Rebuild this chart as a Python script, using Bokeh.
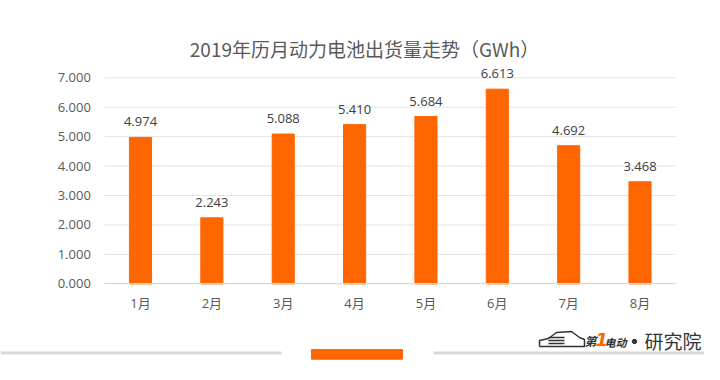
from bokeh.plotting import figure
from bokeh.models import (ColumnDataSource, FixedTicker, NumeralTickFormatter, Range1d,
                          LabelSet, LinearAxis)
from bokeh.embed import file_html
from bokeh.resources import INLINE
from bokeh.core.properties import value

months = ["1月", "2月", "3月", "4月", "5月", "6月", "7月", "8月"]
gwh = [4.974, 2.243, 5.088, 5.410, 5.684, 6.613, 4.692, 3.468]
y_ticks = [0, 1, 2, 3, 4, 5, 6, 7]
title_text = "2019年历月动力电池出货量走势（GWh）"

ORANGE = "#ff6600"
TXT = "#595959"
FONT = "'Open Sans', 'Noto Sans CJK SC'"
CJK = "Noto Sans CJK SC"

W, H = 704, 364
OFF = 0            # page offset of the canvas (px)
PX_X = 71.36       # px per category step
PX_Y = 29.43       # px per GWh
X1_IMG = 140.0     # image x of first category centre
Y0_IMG = 283.3     # image y of value 0

xs = 1 - (X1_IMG - OFF) / PX_X
xe = xs + W / PX_X
yt = (Y0_IMG - OFF) / PX_Y
yb = yt - H / PX_Y


def X(px):
    return xs + (px - OFF) / PX_X


def Y(py):
    return yt - (py - OFF) / PX_Y


pos = list(range(1, len(months) + 1))
src = ColumnDataSource(dict(x=pos, v=gwh, lab=["%.3f" % v for v in gwh]))

p = figure(width=W, height=H, x_range=Range1d(xs, xe), y_range=Range1d(yb, yt),
           x_axis_type=None, y_axis_type=None, output_backend="svg", toolbar_location=None,
           min_border=0, min_border_left=0, min_border_right=0, min_border_top=0, min_border_bottom=0)
p.title.visible = False
p.outline_line_color = None
p.background_fill_color = "white"
p.border_fill_color = "white"

left_edge = pos[0] - 0.5
right_edge = pos[-1] + 0.5

# horizontal gridlines
p.segment(x0=[left_edge] * len(y_ticks), x1=[right_edge] * len(y_ticks), y0=y_ticks, y1=y_ticks,
          line_color="#e3e3e3", line_width=1)

p.vbar(x="x", top="v", width=0.31, color=ORANGE, source=src)
p.add_layout(LabelSet(x="x", y="v", text="lab", source=src, text_align="center",
                      text_baseline="bottom", y_offset=11, text_font_size="13px",
                      text_color="#404040", text_font=value(FONT)))

yaxis = LinearAxis(ticker=FixedTicker(ticks=y_ticks), formatter=NumeralTickFormatter(format="0.000"),
                   fixed_location=left_edge)
yaxis.axis_line_color = None
yaxis.major_tick_line_color = None
yaxis.minor_tick_line_color = None
yaxis.major_label_standoff = 8
yaxis.major_label_text_font_size = "13px"
yaxis.major_label_text_color = TXT
yaxis.major_label_text_font = FONT
p.add_layout(yaxis, "left")

xaxis = LinearAxis(ticker=FixedTicker(ticks=pos),
                   major_label_overrides={k: m for k, m in zip(pos, months)},
                   fixed_location=0, bounds=(left_edge, right_edge))
xaxis.axis_line_color = "#d9d9d9"
xaxis.axis_line_width = 1
xaxis.major_tick_line_color = None
xaxis.minor_tick_line_color = None
xaxis.major_label_standoff = 4
xaxis.major_label_text_font_size = "13px"
xaxis.major_label_text_color = TXT
xaxis.major_label_text_font = FONT
p.add_layout(xaxis, "below")

# title
p.text(x=[X(364)], y=[Y(48)], text=[title_text], text_align="center", text_baseline="middle",
       text_font_size="19px", text_color=TXT, text_font=value(CJK))

# bottom decoration
p.segment(x0=[X(0), X(433)], x1=[X(281), X(720)], y0=[Y(352.5)] * 2, y1=[Y(352.5)] * 2,
          line_color="#d9d9d9", line_width=3)
p.quad(left=[X(311)], right=[X(402)], top=[Y(349)], bottom=[Y(358.7)], color=ORANGE)

# logo
LOGO = "#333333"
car_x = [539, 539, 548, 556, 571, 579, 584, 584, 539]
car_y = [346, 340, 338, 332, 331, 337, 339, 346, 346]
p.line(x=[X(v) for v in car_x], y=[Y(v) for v in car_y], line_color=LOGO, line_width=1.5)
p.segment(x0=[X(548)] * 3, y0=[Y(337), Y(340), Y(343)], x1=[X(564)] * 3, y1=[Y(337), Y(340), Y(343)],
          line_color=LOGO, line_width=1.5)
p.text(x=[X(584)], y=[Y(340)], text=["第"], text_font_size="12px", text_font_style="bold italic",
       text_color=LOGO, text_baseline="middle", text_font=value(CJK))
p.text(x=[X(595)], y=[Y(339)], text=["1"], text_font_size="18px", text_font_style="bold italic",
       text_color=ORANGE, text_baseline="middle", text_font=value("DejaVu Sans"))
p.text(x=[X(604)], y=[Y(341)], text=["电动"], text_font_size="11px", text_font_style="bold italic",
       text_color=LOGO, text_baseline="middle", text_font=value(CJK))
p.circle(x=[X(634)], y=[Y(341)], radius=2.2 / PX_X, color=LOGO)
p.text(x=[X(644)], y=[Y(340)], text=["研究院"], text_font_size="19px",
       text_color=LOGO, text_baseline="middle", text_font=value(CJK))

open("out.html", "w").write(file_html(p, INLINE))
